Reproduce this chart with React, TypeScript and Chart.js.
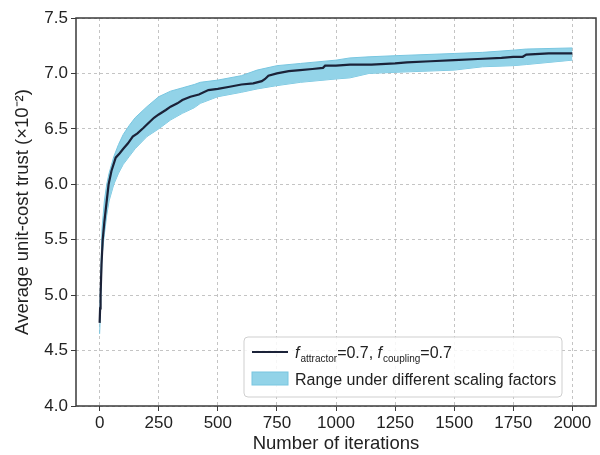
import React, { useEffect, useRef } from "react";
import { Chart, registerables } from "chart.js";

Chart.register(...registerables);

const lineX = [0, 2, 4, 8, 13, 20, 30, 38, 50, 68, 85, 100, 120, 140, 160, 186, 210, 230, 250, 280, 300, 329, 350, 384, 420, 460, 500, 550, 600, 650, 686, 700, 714, 750, 800, 848, 900, 945, 954, 1000, 1059, 1150, 1250, 1300, 1400, 1500, 1600, 1700, 1750, 1790, 1805, 1900, 2000];
const lineY = [4.75, 4.88, 5.0, 5.28, 5.5, 5.66, 5.85, 6.0, 6.12, 6.24, 6.28, 6.32, 6.37, 6.43, 6.46, 6.51, 6.56, 6.6, 6.63, 6.67, 6.7, 6.73, 6.76, 6.79, 6.81, 6.85, 6.86, 6.88, 6.9, 6.91, 6.93, 6.95, 6.98, 7.0, 7.02, 7.03, 7.04, 7.05, 7.07, 7.07, 7.08, 7.08, 7.09, 7.1, 7.11, 7.12, 7.13, 7.14, 7.15, 7.15, 7.17, 7.18, 7.18];

const bandX = [0, 5, 10, 20, 30, 40, 60, 80, 100, 125, 150, 200, 250, 300, 350, 400, 426, 500, 600, 666, 750, 850, 1000, 1059, 1140, 1250, 1500, 1620, 1750, 1805, 2000];
const bandUpper = [4.78, 5.2, 5.6, 5.85, 6.0, 6.1, 6.25, 6.36, 6.45, 6.53, 6.6, 6.7, 6.79, 6.84, 6.87, 6.9, 6.92, 6.94, 6.98, 7.03, 7.07, 7.09, 7.12, 7.14, 7.15, 7.16, 7.18, 7.19, 7.21, 7.22, 7.23];
const bandLower = [4.65, 4.95, 5.35, 5.55, 5.72, 5.85, 6.0, 6.1, 6.18, 6.25, 6.32, 6.43, 6.5, 6.58, 6.64, 6.69, 6.73, 6.79, 6.83, 6.86, 6.89, 6.92, 6.95, 6.96, 7.0, 7.01, 7.03, 7.06, 7.07, 7.08, 7.12];

const xTicks = [0, 250, 500, 750, 1000, 1250, 1500, 1750, 2000];
const yTicks = [4.0, 4.5, 5.0, 5.5, 6.0, 6.5, 7.0, 7.5];

const xTitle = "Number of iterations";
const yTitle = "Average unit-cost trust (×10⁻²)";
const legendLineParts = [
  { t: "f", style: "italic" },
  { t: "attractor", style: "sub" },
  { t: "=0.7, ", style: "normal" },
  { t: "f", style: "italic" },
  { t: "coupling", style: "sub" },
  { t: "=0.7", style: "normal" },
];
const legendFillLabel = "Range under different scaling factors";

const LINE_COLOR = "#1b2238";
const BAND_FILL = "#92d3e8";
const BAND_EDGE = "#78c6e0";
const FONT = "'Liberation Sans', Arial, sans-serif";
const TEXT = "#222222";

const framePlugin = {
  id: "frameLegend",
  afterDraw(chart: any) {
    const { ctx, chartArea: a } = chart;
    ctx.save();
    ctx.strokeStyle = "#3a3a3a";
    ctx.lineWidth = 1.5;
    ctx.strokeRect(a.left, a.top, a.right - a.left, a.bottom - a.top);

    // legend box
    const bx = 244, by = 337, bw = 318, bh = 60, r = 4;
    ctx.beginPath();
    ctx.moveTo(bx + r, by);
    ctx.lineTo(bx + bw - r, by);
    ctx.quadraticCurveTo(bx + bw, by, bx + bw, by + r);
    ctx.lineTo(bx + bw, by + bh - r);
    ctx.quadraticCurveTo(bx + bw, by + bh, bx + bw - r, by + bh);
    ctx.lineTo(bx + r, by + bh);
    ctx.quadraticCurveTo(bx, by + bh, bx, by + bh - r);
    ctx.lineTo(bx, by + r);
    ctx.quadraticCurveTo(bx, by, bx + r, by);
    ctx.closePath();
    ctx.fillStyle = "rgba(255,255,255,0.85)";
    ctx.fill();
    ctx.strokeStyle = "#cfcfcf";
    ctx.lineWidth = 1;
    ctx.stroke();

    // line handle
    ctx.strokeStyle = LINE_COLOR;
    ctx.lineWidth = 2.2;
    ctx.beginPath();
    ctx.moveTo(252, 352);
    ctx.lineTo(288, 352);
    ctx.stroke();
    // fill handle
    ctx.fillStyle = BAND_FILL;
    ctx.fillRect(252, 372, 36, 13);
    ctx.strokeStyle = BAND_EDGE;
    ctx.lineWidth = 1;
    ctx.strokeRect(252, 372, 36, 13);

    ctx.fillStyle = TEXT;
    ctx.textBaseline = "alphabetic";
    ctx.textAlign = "left";
    let x = 295;
    const base1 = 358;
    for (const p of legendLineParts) {
      if (p.style === "italic") {
        ctx.font = `italic 16px ${FONT}`;
        ctx.fillText(p.t, x, base1);
        x += ctx.measureText(p.t).width + 1;
      } else if (p.style === "sub") {
        ctx.font = `10px ${FONT}`;
        ctx.fillText(p.t, x, base1 + 4);
        x += ctx.measureText(p.t).width;
      } else {
        ctx.font = `16px ${FONT}`;
        ctx.fillText(p.t, x, base1);
        x += ctx.measureText(p.t).width;
      }
    }
    ctx.font = `16px ${FONT}`;
    ctx.fillText(legendFillLabel, 295, 385);
    ctx.restore();
  },
};

export default function App() {
  const ref = useRef<HTMLCanvasElement>(null);
  useEffect(() => {
    if (!ref.current) return;
    const chart = new Chart(ref.current, {
      type: "line",
      data: {
        datasets: [
          {
            label: "lower",
            data: bandX.map((x, i) => ({ x, y: bandLower[i] })),
            borderColor: BAND_EDGE,
            borderWidth: 1,
            pointRadius: 0,
            fill: false,
            order: 3,
          },
          {
            label: legendFillLabel,
            data: bandX.map((x, i) => ({ x, y: bandUpper[i] })),
            borderColor: BAND_EDGE,
            borderWidth: 1,
            backgroundColor: BAND_FILL,
            pointRadius: 0,
            fill: "-1",
            order: 2,
          },
          {
            label: "main",
            data: lineX.map((x, i) => ({ x, y: lineY[i] })),
            borderColor: LINE_COLOR,
            borderWidth: 2.2,
            pointRadius: 0,
            fill: false,
            order: 1,
          },
        ],
      },
      options: {
        animation: false,
        responsive: false,
        layout: { padding: { top: 18, right: 4, left: 0, bottom: 0 } },
        plugins: { legend: { display: false }, tooltip: { enabled: false } },
        scales: {
          x: {
            type: "linear",
            min: -100,
            max: 2100,
            afterBuildTicks: (s: any) => {
              s.ticks = xTicks.map((v) => ({ value: v }));
            },
            afterFit: (s: any) => {
              s.height = 49;
            },
            border: { display: false, dash: [3, 3] },
            grid: {
              color: "#c4c4c4",
              lineWidth: 1,
              tickLength: 5,
              tickColor: "#3a3a3a",
              tickBorderDash: [],
              tickWidth: 1,
            },
            ticks: {
              color: TEXT,
              font: { family: FONT, size: 17 },
              padding: 2,
              maxRotation: 0,
              callback: (v: any) => String(v),
            },
            title: {
              display: true,
              text: xTitle,
              color: TEXT,
              font: { family: FONT, size: 18.5 },
              padding: { top: 0, bottom: 0 },
            },
          },
          y: {
            type: "linear",
            min: 4.0,
            max: 7.5,
            afterBuildTicks: (s: any) => {
              s.ticks = yTicks.map((v) => ({ value: v }));
            },
            afterFit: (s: any) => {
              s.width = 76;
            },
            border: { display: false, dash: [3, 3] },
            grid: {
              color: "#c4c4c4",
              lineWidth: 1,
              tickLength: 5,
              tickColor: "#3a3a3a",
              tickBorderDash: [],
              tickWidth: 1,
            },
            ticks: {
              color: TEXT,
              font: { family: FONT, size: 17 },
              padding: 3,
              callback: (v: any) => Number(v).toFixed(1),
            },
            title: {
              display: true,
              text: yTitle,
              color: TEXT,
              font: { family: FONT, size: 18.5 },
              padding: { top: 12, bottom: 0 },
            },
          },
        },
      },
      plugins: [framePlugin],
    });
    return () => chart.destroy();
  }, []);
  return (
    <div style={{ position: "absolute", left: 0, top: 0, width: 600, height: 455, background: "#fff" }}>
      <canvas ref={ref} width={600} height={455} style={{ display: "block", width: 600, height: 455 }} />
    </div>
  );
}
